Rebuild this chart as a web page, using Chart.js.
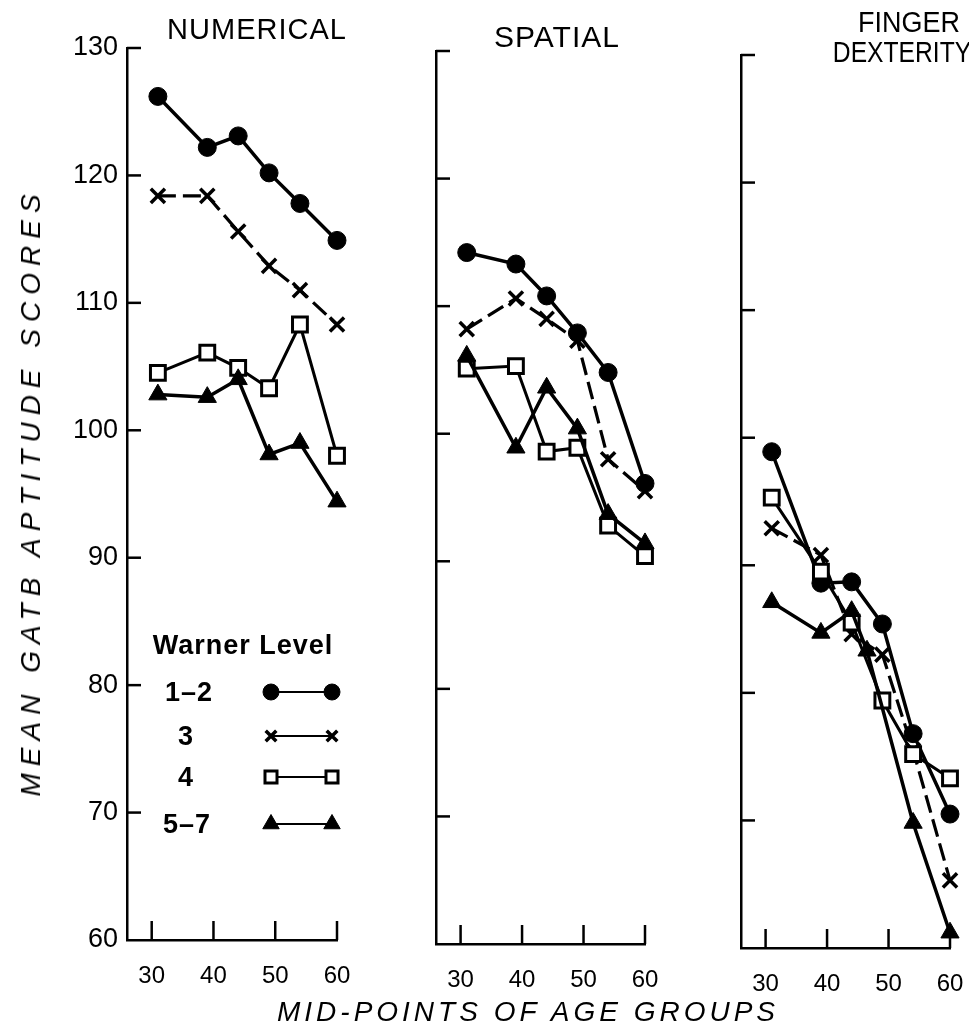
<!DOCTYPE html>
<html>
<head>
<meta charset="utf-8">
<script src="https://cdn.jsdelivr.net/npm/chart.js@4.4.1/dist/chart.umd.min.js"></script>
<style>
  html, body { margin: 0; padding: 0; background: #fff; }
  body { width: 969px; height: 1034px; position: relative; overflow: hidden; font-family: "Liberation Sans", Arial, sans-serif; color: #000; }
  canvas { position: absolute; top: 0; }
  .t { position: absolute; transform: translate(-50%, -50%); white-space: nowrap; line-height: 1; }
  .title { font-size: 29px; letter-spacing: 1px; }
  .leg { font-size: 27px; font-weight: bold; letter-spacing: 1px; }
  .axt { font-size: 28px; font-style: italic; }
</style>
</head>
<body>
<canvas id="c1"></canvas>
<canvas id="c2"></canvas>
<canvas id="c3"></canvas>

<div class="t title" style="left:257px; top:29px;">NUMERICAL</div>
<div class="t title" style="left:557px; top:37px; font-size:30px;">SPATIAL</div>
<div class="t title" style="left:909px; top:22px; letter-spacing:0px; transform: translate(-50%,-50%) scaleX(0.93);">FINGER</div>
<div class="t title" style="left:902px; top:52px; letter-spacing:0px; transform: translate(-50%,-50%) scaleX(0.85);">DEXTERITY</div>

<div class="t leg" style="left:243px; top:645px;">Warner Level</div>
<div class="t leg" style="left:189px; top:692px;">1–2</div>
<div class="t leg" style="left:186px; top:736px;">3</div>
<div class="t leg" style="left:186px; top:777px;">4</div>
<div class="t leg" style="left:187px; top:824px;">5–7</div>

<div class="t axt" style="left:31px; top:492px; transform: translate(-50%,-50%) rotate(-90deg); letter-spacing:7px;">MEAN GATB APTITUDE SCORES</div>
<div class="t axt" style="left:528px; top:1012px; letter-spacing:4px;">MID-POINTS OF AGE GROUPS</div>

<script>
// ---------------- DATA ----------------
const ages = [31, 39, 44, 49, 54, 60];
const fingerL57Ages = [31, 39, 44, 46.5, 54, 60];
const ageTicks = [30, 40, 50, 60];
const scoreTicks = [60, 70, 80, 90, 100, 110, 120, 130];
const levels = ["1–2", "3", "4", "5–7"];

const numericalL12 = [126.2, 122.2, 123.1, 120.2, 117.8, 114.9];
const numericalL3  = [118.4, 118.4, 115.6, 112.9, 111.0, 108.3];
const numericalL4  = [104.5, 106.1, 104.9, 103.3, 108.3, 98.0];
const numericalL57 = [102.8, 102.6, 104.0, 98.1, 99.0, 94.4];

const spatialL12 = [114.2, 113.3, 110.8, 107.9, 104.8, 96.1];
const spatialL3  = [108.2, 110.6, 109.0, 107.3, 98.0, 95.5];
const spatialL4  = [105.1, 105.3, 98.6, 98.9, 92.8, 90.4];
const spatialL57 = [106.1, 98.9, 103.6, 100.4, 93.7, 91.4];

const fingerL12 = [98.9, 88.6, 88.7, 85.4, 76.8, 70.5];
const fingerL3  = [92.9, 90.8, 84.6, 83.0, 75.5, 65.3];
const fingerL4  = [95.3, 89.5, 85.5, 79.4, 75.2, 73.3];
const fingerL57 = [87.1, 84.7, 86.4, 83.3, 69.8, 61.2];

// ---------------- STYLES ----------------
const seriesStyle = [
  { pointStyle: 'circle',   pointRadius: 9,    borderWidth: 3.5, borderDash: [],      pointBackgroundColor: '#000', pointBorderWidth: 1,   legendRadius: 8 },
  { pointStyle: 'crossRot', pointRadius: 10,   borderWidth: 3.2, borderDash: [18, 7], pointBackgroundColor: '#000', pointBorderWidth: 3.5, legendRadius: 7.5 },
  { pointStyle: 'rect',     pointRadius: 10.5, borderWidth: 3,   borderDash: [],      pointBackgroundColor: '#fff', pointBorderWidth: 3,   legendRadius: 8.5 },
  { pointStyle: 'triangle', pointRadius: 10.5, borderWidth: 3.5, borderDash: [],      pointBackgroundColor: '#000', pointBorderWidth: 1,   legendRadius: 9.5 }
];

function makeDatasets(seriesList, agesList) {
  return seriesList.map((vals, i) => {
    const xs = agesList[i];
    const s = seriesStyle[i];
    return {
      label: levels[i],
      data: vals.map((v, k) => ({ x: xs[k], y: v })),
      borderColor: '#000',
      borderWidth: s.borderWidth,
      borderDash: s.borderDash,
      pointStyle: s.pointStyle,
      pointRadius: s.pointRadius,
      pointBackgroundColor: s.pointBackgroundColor,
      pointBorderColor: '#000',
      pointBorderWidth: s.pointBorderWidth,
      tension: 0,
      clip: false,
      order: 4 - i
    };
  });
}

const inwardTicks = {
  id: 'inwardTicks',
  beforeDatasetsDraw(chart) {
    const { ctx, chartArea, scales } = chart;
    const x = scales.x, y = scales.y;
    ctx.save();
    ctx.strokeStyle = '#000';
    ctx.lineWidth = 2.5;
    ctx.lineCap = 'butt';
    scoreTicks.forEach(v => {
      if (v === y.min) return;
      const py = y.getPixelForValue(v);
      ctx.beginPath();
      ctx.moveTo(chartArea.left, py);
      ctx.lineTo(chartArea.left + 14, py);
      ctx.stroke();
    });
    ageTicks.forEach(v => {
      const px = x.getPixelForValue(v);
      ctx.beginPath();
      ctx.moveTo(px, chartArea.bottom);
      ctx.lineTo(px, chartArea.bottom - 19);
      ctx.stroke();
    });
    ctx.restore();
  }
};

function legendSamples(offsetX) {
  return {
    id: 'legendSamples',
    afterDraw(chart) {
      const ctx = chart.ctx;
      const rows = [692, 736, 777, 824];
      const x1 = 271 - offsetX, x2 = 332 - offsetX;
      rows.forEach((ry, i) => {
        const s = seriesStyle[i];
        ctx.save();
        ctx.strokeStyle = '#000';
        ctx.lineWidth = 2.2;
        ctx.setLineDash([]);
        ctx.beginPath();
        ctx.moveTo(x1, ry);
        ctx.lineTo(x2, ry);
        ctx.stroke();
        [x1, x2].forEach(px => {
          ctx.fillStyle = s.pointBackgroundColor;
          ctx.strokeStyle = '#000';
          ctx.lineWidth = s.pointBorderWidth;
          Chart.helpers.drawPoint(ctx, { pointStyle: s.pointStyle, radius: s.legendRadius, rotation: 0, borderWidth: s.pointBorderWidth }, px, ry);
        });
        ctx.restore();
      });
    }
  };
}

const PAGE_H = 1034;
const XH = 60;

function makePanel(id, area, yw, showY, seriesList, agesList, extraPlugins) {
  const rw = 24;
  const canvas = document.getElementById(id);
  const left = area.left - yw;
  const width = yw + (area.right - area.left) + rw;
  canvas.width = width;
  canvas.height = PAGE_H;
  canvas.style.left = left + 'px';
  canvas.style.width = width + 'px';
  canvas.style.height = PAGE_H + 'px';
  return new Chart(canvas, {
    type: 'line',
    data: { datasets: makeDatasets(seriesList, agesList) },
    options: {
      responsive: false,
      animation: false,
      devicePixelRatio: 1,
      layout: { padding: { left: 0, right: rw, top: area.top, bottom: PAGE_H - area.bottom - XH } },
      plugins: { legend: { display: false }, title: { display: false }, tooltip: { enabled: false } },
      scales: {
        x: {
          type: 'linear',
          min: 26, max: 60,
          grid: { display: false, drawTicks: false },
          border: { display: true, color: '#000', width: 2.5 },
          afterBuildTicks: (s) => { s.ticks = ageTicks.map(v => ({ value: v })); },
          afterFit: (s) => { s.height = XH; s.paddingLeft = 0; s.paddingRight = 0; },
          ticks: { color: '#000', font: { family: 'Liberation Sans', size: 24 }, padding: 22, maxRotation: 0, autoSkip: false }
        },
        y: {
          type: 'linear',
          min: 60, max: 130,
          grid: { display: false, drawTicks: false },
          border: { display: true, color: '#000', width: 2.5 },
          afterBuildTicks: (s) => { s.ticks = scoreTicks.map(v => ({ value: v })); },
          afterFit: (s) => { s.width = yw; s.paddingTop = 0; s.paddingBottom = 0; },
          ticks: { display: showY, color: '#000', font: { family: 'Liberation Sans', size: 27 }, padding: 9 }
        }
      }
    },
    plugins: [inwardTicks].concat(extraPlugins || [])
  });
}

const area1 = { left: 127, right: 337, top: 48, bottom: 940 };
const area2 = { left: 436, right: 645, top: 51, bottom: 944 };
const area3 = { left: 741, right: 950, top: 55, bottom: 948 };

makePanel('c1', area1, 110, true,
  [numericalL12, numericalL3, numericalL4, numericalL57],
  [ages, ages, ages, ages],
  [legendSamples(area1.left - 110)]);
makePanel('c2', area2, 20, false,
  [spatialL12, spatialL3, spatialL4, spatialL57],
  [ages, ages, ages, ages]);
makePanel('c3', area3, 20, false,
  [fingerL12, fingerL3, fingerL4, fingerL57],
  [ages, ages, ages, fingerL57Ages]);
</script>
</body>
</html>
